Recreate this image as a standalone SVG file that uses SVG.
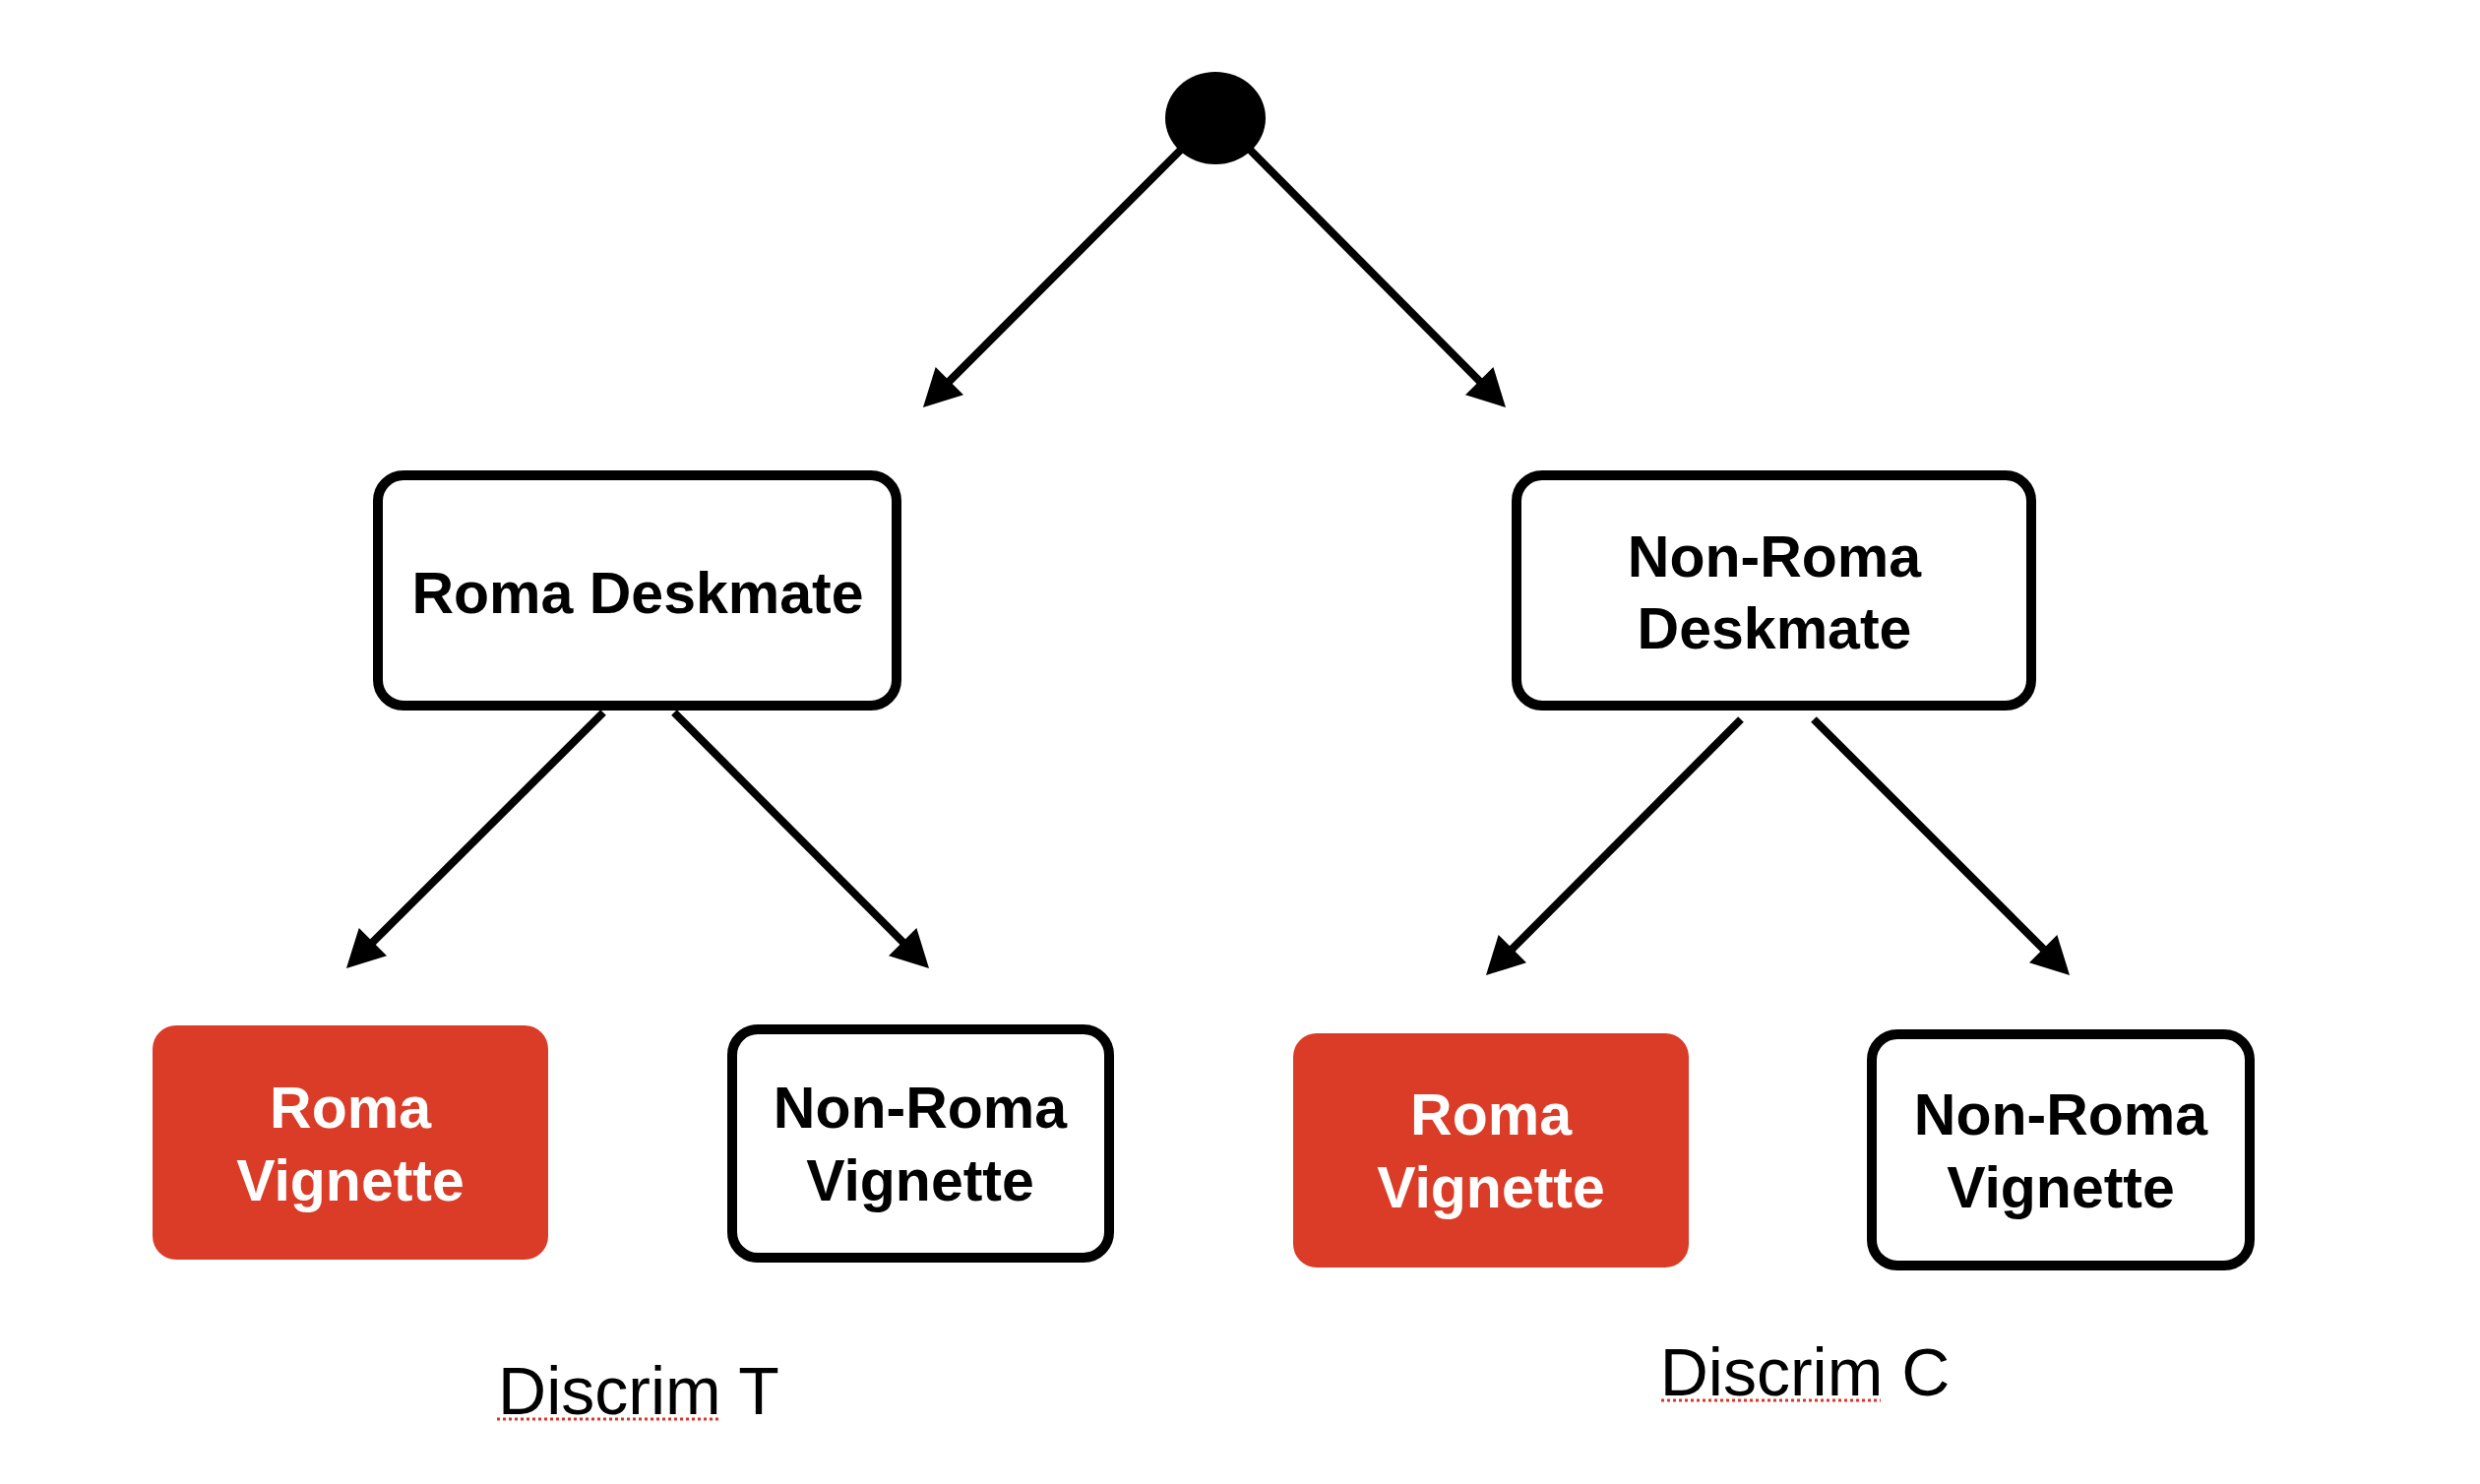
<svg xmlns="http://www.w3.org/2000/svg" width="2520" height="1508" viewBox="0 0 2520 1508">
<style>
.box{fill:#ffffff;stroke:#000000;stroke-width:10}
.red{fill:#DA3C28;stroke:none}
.lbl{font-family:"Liberation Sans",Arial,Helvetica,sans-serif;font-weight:bold;font-size:59px;text-anchor:middle;fill:#000000}
.wht{fill:#ffffff}
.cap{font-family:"Liberation Sans",Arial,Helvetica,sans-serif;font-size:68px;text-anchor:middle;fill:#000000}
.edge{fill:none;stroke:#000000;stroke-width:8;marker-end:url(#ah)}
.spell{fill:none;stroke:#E0342A;stroke-width:3;stroke-dasharray:3 3}
</style>
<defs>
<marker id="ah" markerUnits="userSpaceOnUse" markerWidth="40" markerHeight="40" refX="20" refY="20" orient="auto" viewBox="0 0 38 40">
<path d="M0,0 L38,20 L0,40 z" fill="#000000"/>
</marker>
</defs>
<rect width="2520" height="1508" fill="#ffffff"/>
<g id="connectors">
<line class="edge" x1="1200" y1="152" x2="950.7" y2="401.3"/>
<line class="edge" x1="1270" y1="152" x2="1517.3" y2="401.3"/>
<line class="edge" x1="613" y1="724" x2="364.7" y2="971.3"/>
<line class="edge" x1="685" y1="724" x2="931.3" y2="971.3"/>
<line class="edge" x1="1769" y1="731" x2="1522.7" y2="978.3"/>
<line class="edge" x1="1843" y1="731" x2="2090.3" y2="978.3"/>
</g>
<g id="start">
<ellipse cx="1235" cy="120" rx="51" ry="47" fill="#000000"/>
</g>
<g id="roma-deskmate">
<rect class="box" x="384" y="483" width="527" height="234" rx="26"/>
<text class="lbl" x="648" y="623">Roma Deskmate</text>
</g>
<g id="nonroma-deskmate">
<rect class="box" x="1541" y="483" width="523" height="234" rx="26"/>
<text class="lbl" x="1803" y="586">Non-Roma</text>
<text class="lbl" x="1803" y="659">Deskmate</text>
</g>
<g id="roma-vignette-t">
<rect class="red" x="155" y="1042" width="402" height="238" rx="24"/>
<text class="lbl wht" x="356" y="1146">Roma</text>
<text class="lbl wht" x="356" y="1220">Vignette</text>
</g>
<g id="nonroma-vignette-t">
<rect class="box" x="744" y="1046" width="383" height="232" rx="26"/>
<text class="lbl" x="935" y="1146">Non-Roma</text>
<text class="lbl" x="935" y="1220">Vignette</text>
</g>
<g id="roma-vignette-c">
<rect class="red" x="1314" y="1050" width="402" height="238" rx="24"/>
<text class="lbl wht" x="1515" y="1153">Roma</text>
<text class="lbl wht" x="1515" y="1227">Vignette</text>
</g>
<g id="nonroma-vignette-c">
<rect class="box" x="1902" y="1051" width="384" height="235" rx="26"/>
<text class="lbl" x="2094" y="1153">Non-Roma</text>
<text class="lbl" x="2094" y="1227">Vignette</text>
</g>
<g id="discrim-t">
<text class="cap" x="649" y="1437">Discrim T</text>
<line class="spell" x1="505" y1="1442" x2="730" y2="1442"/>
</g>
<g id="discrim-c">
<text class="cap" x="1834" y="1418">Discrim C</text>
<line class="spell" x1="1688" y1="1423" x2="1911" y2="1423"/>
</g>
</svg>
